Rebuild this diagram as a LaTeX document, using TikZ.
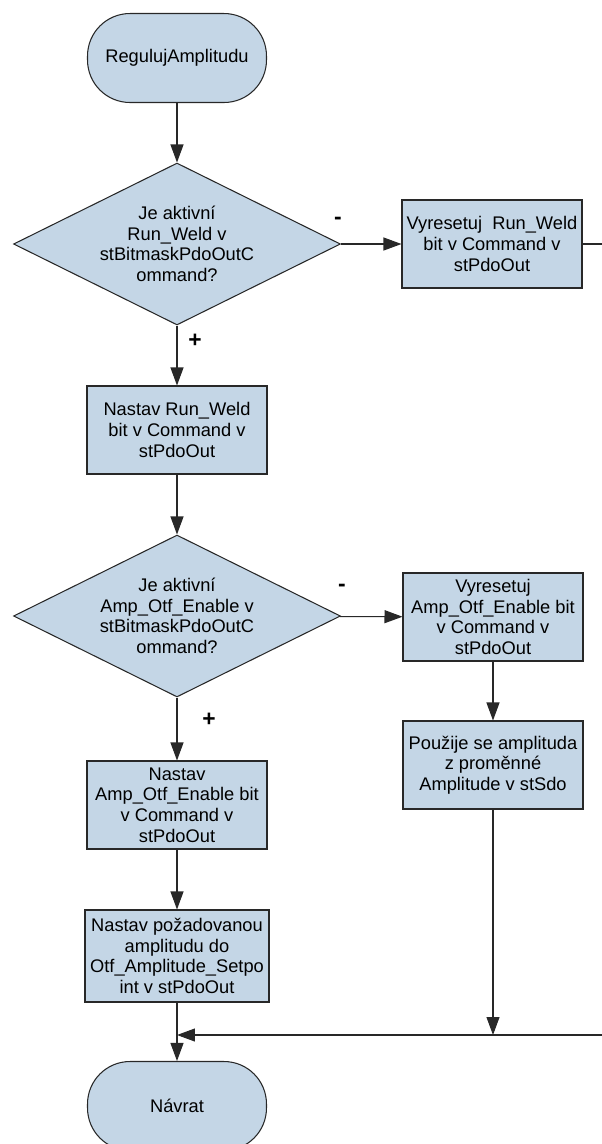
\documentclass[tikz,border=0pt]{standalone}
\usepackage{fontspec}
\setmainfont{Liberation Sans}
\usepackage{tikz}
\usetikzlibrary{shapes.geometric,arrows.meta}
\definecolor{boxblue}{RGB}{196,214,230}
\definecolor{linegray}{RGB}{40,40,40}

\begin{document}
\begin{tikzpicture}[x=0.02cm,y=-0.02cm,
  font=\fontsize{10.4}{11.7}\selectfont,
  base/.style={draw=linegray, fill=boxblue, line width=0.6pt, align=center, inner sep=1pt},
  term/.style={base, rounded corners=0.85cm, minimum width=3.58cm, minimum height=1.78cm},
  proc/.style={base, minimum width=3.6cm, minimum height=1.76cm},
  cond/.style={base, diamond, aspect=2, minimum width=6.54cm, minimum height=3.24cm, inner sep=0pt},
  flow/.style={draw=linegray, line width=0.6pt, -{Triangle[length=0.36cm,width=0.26cm]}},
  sign/.style={font=\fontsize{13}{13}\selectfont\bfseries}]
  \useasboundingbox (0,0) rectangle (602,1144);
  % start
  \node[term] (start) at (177,58) {RegulujAmplitudu};
  % first question
  \node[cond] (q1) at (177,244) {Je aktivní\\Run\_Weld v\\stBitmaskPdoOutC\\ommand?};
  \node[proc] (r1) at (492,244) {Vyresetuj~~Run\_Weld\\bit v Command v\\stPdoOut};
  \node[proc] (l1) at (177,430) {Nastav Run\_Weld\\bit v Command v\\stPdoOut};
  % second question
  \node[cond] (q2) at (177,616) {Je aktivní\\Amp\_Otf\_Enable v\\stBitmaskPdoOutC\\ommand?};
  \node[proc] (r2) at (493,617) {Vyresetuj\\Amp\_Otf\_Enable bit\\v Command v\\stPdoOut};
  \node[proc] (r3) at (493,765) {Použije se amplituda\\z proměnné\\Amplitude v stSdo};
  \node[proc] (l2) at (177,805) {Nastav\\Amp\_Otf\_Enable bit\\v Command v\\stPdoOut};
  \node[proc, minimum width=3.68cm, minimum height=1.84cm] (l3) at (177,956)
    {Nastav požadovanou\\amplitudu do\\Otf\_Amplitude\_Setpo\\int v stPdoOut};
  % end
  \node[term] (stop) at (177,1106) {Návrat};
  % branch signs
  \node[sign] (m1) at (338,221) {-};
  \node[sign] (p1) at (195,341) {+};
  \node[sign] (m2) at (342,588) {-};
  \node[sign] (p2) at (209,720) {+};
  % connectors
  \coordinate (join) at (177,1035);
  \coordinate (edge) at (620,244);
  \draw[flow] (start) -- (q1);
  \draw[flow] (q1) -- (r1);
  \draw[flow] (q1) -- (l1);
  \draw[flow] (l1) -- (q2);
  \draw[flow] (q2) -- (r2);
  \draw[flow] (q2) -- (l2);
  \draw[flow] (r2) -- (r3);
  \draw[flow] (l2) -- (l3);
  \draw[flow] (l3) -- (stop);
  \draw[flow] (r1) -- (edge) |- (join);
  \draw[flow] (r3) -- (r3 |- join);
\end{tikzpicture}
\end{document}
